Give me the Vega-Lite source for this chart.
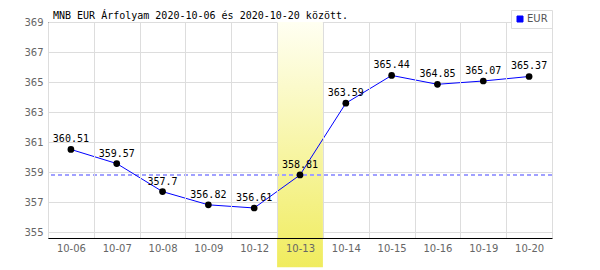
{
  "$schema": "https://vega.github.io/schema/vega-lite/v6.json",
  "width": 504,
  "height": 216,
  "autosize": {"type": "none"},
  "padding": {"left": 48, "top": 22, "right": 48, "bottom": 32},
  "background": "white",
  "title": {
    "text": "MNB EUR Árfolyam 2020-10-06 és 2020-10-20 között.",
    "anchor": "start",
    "frame": "group",
    "dx": 5,
    "dy": 24,
    "offset": 5,
    "baseline": "alphabetic",
    "font": "DejaVu Sans Mono",
    "fontSize": 10,
    "fontWeight": "normal",
    "color": "#000000"
  },
  "datasets": {
    "rates": [
      {"date": "10-06", "rate": 360.51, "series": "EUR"},
      {"date": "10-07", "rate": 359.57, "series": "EUR"},
      {"date": "10-08", "rate": 357.7, "series": "EUR"},
      {"date": "10-09", "rate": 356.82, "series": "EUR"},
      {"date": "10-12", "rate": 356.61, "series": "EUR"},
      {"date": "10-13", "rate": 358.81, "series": "EUR"},
      {"date": "10-14", "rate": 363.59, "series": "EUR"},
      {"date": "10-15", "rate": 365.44, "series": "EUR"},
      {"date": "10-16", "rate": 364.85, "series": "EUR"},
      {"date": "10-19", "rate": 365.07, "series": "EUR"},
      {"date": "10-20", "rate": 365.37, "series": "EUR"}
    ],
    "highlight": [{"date": "10-13", "rate": 358.81}]
  },
  "data": {"name": "rates"},
  "config": {
    "view": {"stroke": null},
    "axis": {"labelFont": "DejaVu Sans", "labelFontSize": 10, "labelColor": "#666666", "labelOverlap": false},
    "axisY": {
      "values": [355, 357, 359, 361, 363, 365, 367, 369],
      "ticks": false,
      "labelPadding": 5,
      "domainColor": "#000000",
      "grid": true,
      "gridColor": "#dddddd",
      "zindex": 0,
      "title": null
    }
  },
  "layer": [
    {
      "data": {"name": "highlight"},
      "mark": {
        "type": "rect",
        "clip": false,
        "color": {
          "gradient": "linear",
          "x1": 0, "y1": 0, "x2": 0, "y2": 1,
          "stops": [
            {"offset": 0, "color": "#fffff2"},
            {"offset": 1, "color": "#f0ec5e"}
          ]
        }
      },
      "encoding": {
        "x": {
          "field": "date",
          "type": "ordinal",
          "scale": {
            "domain": ["10-06","10-07","10-08","10-09","10-12","10-13","10-14","10-15","10-16","10-19","10-20"],
            "paddingInner": 0, "paddingOuter": 0
          },
          "axis": {
            "title": null,
            "labelAngle": 0,
            "ticks": false,
            "labelPadding": 5,
            "domainColor": "#000000",
            "domainWidth": 1,
            "grid": true,
            "gridColor": "#dddddd",
            "tickBand": "extent",
            "zindex": 1
          }
        },
        "y": {
          "datum": 369,
          "type": "quantitative",
          "scale": {"domain": [354.61, 369], "nice": false, "zero": false},
          "axis": {"values": [355, 357, 359, 361, 363, 365, 367, 369], "title": null}
        },
        "y2": {"datum": 352.66}
      }
    },
    {
      "mark": {"type": "rule", "color": "#a0a0ff", "strokeDash": [4, 3], "strokeWidth": 1},
      "encoding": {"y": {"datum": 358.81, "type": "quantitative", "axis": {"values": [355, 357, 359, 361, 363, 365, 367, 369], "title": null}}}
    },
    {
      "mark": {"type": "line", "strokeWidth": 1},
      "encoding": {
        "x": {"field": "date", "type": "ordinal"},
        "y": {"field": "rate", "type": "quantitative", "axis": {"values": [355, 357, 359, 361, 363, 365, 367, 369], "title": null}},
        "color": {
          "field": "series",
          "type": "nominal",
          "scale": {"domain": ["EUR"], "range": ["#0000ff"]},
          "legend": {
            "title": null,
            "orient": "none",
            "legendX": 463,
            "legendY": -12,
            "symbolType": "square",
            "symbolSize": 36,
            "symbolStrokeColor": "#666666",
            "symbolStrokeWidth": 1,
            "symbolFillColor": "#0000ff",
            "labelFont": "DejaVu Sans",
            "labelFontSize": 10,
            "labelColor": "#555555",
            "labelOffset": 2,
            "padding": 4,
            "strokeColor": "#dddddd",
            "fillColor": "#ffffff"
          }
        }
      }
    },
    {
      "mark": {"type": "point", "filled": true, "color": "#000000", "size": 45, "opacity": 1},
      "encoding": {
        "x": {"field": "date", "type": "ordinal"},
        "y": {"field": "rate", "type": "quantitative", "axis": {"values": [355, 357, 359, 361, 363, 365, 367, 369], "title": null}}
      }
    },
    {
      "mark": {"type": "text", "font": "DejaVu Sans Mono", "fontSize": 10, "color": "#000000", "dy": -10, "baseline": "middle"},
      "encoding": {
        "x": {"field": "date", "type": "ordinal"},
        "y": {"field": "rate", "type": "quantitative", "axis": {"values": [355, 357, 359, 361, 363, 365, 367, 369], "title": null}},
        "text": {"field": "rate", "type": "nominal"}
      }
    }
  ]
}
